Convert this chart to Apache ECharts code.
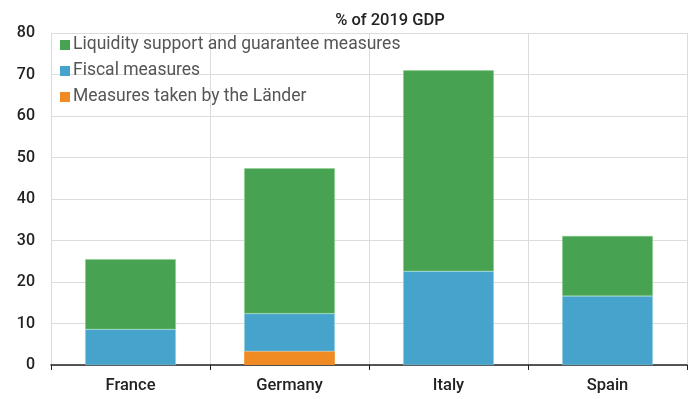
<!DOCTYPE html>
<html><head><meta charset="utf-8">
<script src="https://cdn.jsdelivr.net/npm/echarts@6/dist/echarts.min.js"></script>
<style>html,body{margin:0;padding:0;background:#fff}#c{width:696px;height:399px}</style>
</head><body><div id="c"></div>
<script>
const categories = ['France', 'Germany', 'Italy', 'Spain'];
const landerValues = [0, 3.3, 0, 0];
const fiscalValues = [8.6, 9.1, 22.6, 16.6];
const liquidityValues = [16.9, 35.0, 48.4, 14.5];
const yTicks = [0, 10, 20, 30, 40, 50, 60, 70, 80];
const seriesNames = ['Liquidity support and guarantee measures', 'Fiscal measures', 'Measures taken by the Länder'];

const FONT = 'Roboto';
const chart = echarts.init(document.getElementById('c'), null, {renderer: 'canvas'});
chart.setOption({
  animation: false,
  title: {
    text: '% of 2019 GDP', left: 385, top: 7, textAlign: 'center',
    textStyle: {fontFamily: FONT, fontSize: 16.5, fontWeight: 500, color: '#222'}
  },
  legend: {
    data: seriesNames, orient: 'vertical', left: 55, top: 31,
    itemWidth: 10, itemHeight: 10, itemGap: 8, icon: 'rect',
    itemStyle: {borderWidth: 0},
    textStyle: {fontFamily: FONT, fontSize: 17.5, color: '#555', padding: [0, 0, 0, -2]}
  },
  grid: {left: 51, right: 9, top: 33, bottom: 34},
  xAxis: {
    type: 'category', data: categories,
    axisLine: {lineStyle: {color: '#222', width: 1.5}},
    axisTick: {show: true, alignWithLabel: false, length: 5, lineStyle: {color: '#222'}},
    axisLabel: {fontFamily: FONT, fontSize: 16.5, fontWeight: 500, color: '#222', margin: 12},
    splitLine: {show: true, lineStyle: {color: '#dcdcdc'}}
  },
  yAxis: {
    type: 'value', min: yTicks[0], max: yTicks[yTicks.length - 1], interval: 10,
    axisLine: {show: false}, axisTick: {show: false},
    axisLabel: {fontFamily: FONT, fontSize: 16, fontWeight: 500, color: '#222', margin: 16},
    splitLine: {lineStyle: {color: '#dcdcdc'}}
  },
  series: [
    {name: seriesNames[2], type: 'bar', stack: 's', data: landerValues, barWidth: '57%',
     itemStyle: {color: '#ef8b22'}},
    {name: seriesNames[1], type: 'bar', stack: 's', data: fiscalValues, barWidth: '57%',
     itemStyle: {color: '#46a3cc', borderColor: '#8fd0e6', borderWidth: 0.5}},
    {name: seriesNames[0], type: 'bar', stack: 's', data: liquidityValues, barWidth: '57%',
     itemStyle: {color: '#47a251', borderColor: '#8cd08f', borderWidth: 0.5}}
  ]
});
</script></body></html>
